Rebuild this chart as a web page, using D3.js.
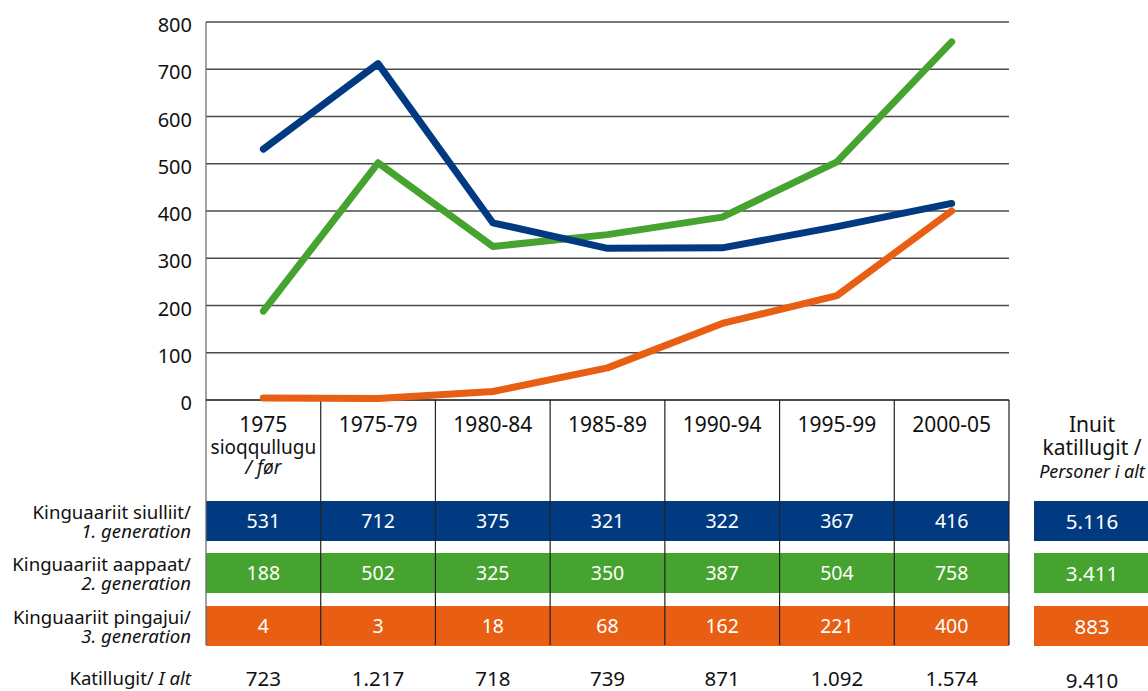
<!DOCTYPE html>
<html>
<head>
<meta charset="utf-8">
<script src="https://cdn.jsdelivr.net/npm/d3@7"></script>
<style>
  html, body { margin: 0; padding: 0; background: #fff; }
  svg { display: block; font-family: "Noto Sans", "Open Sans", sans-serif; }
</style>
</head>
<body>
<svg id="chart" width="1148" height="691"></svg>
<script>
// ---- data ----
const categories = ["1975", "1975-79", "1980-84", "1985-89", "1990-94", "1995-99", "2000-05"];
const firstCatExtra = ["sioqqullugu", "/ før"];
const gen1 = [531, 712, 375, 321, 322, 367, 416];
const gen2 = [188, 502, 325, 350, 387, 504, 758];
const gen3 = [4, 3, 18, 68, 162, 221, 400];
const totals = ["723", "1.217", "718", "739", "871", "1.092", "1.574"];
const rowLabels = [["Kinguaariit siulliit/", "1. generation"], ["Kinguaariit aappaat/", "2. generation"], ["Kinguaariit pingajui/", "3. generation"]];
const totalLabel = ["Katillugit/ ", "I alt"];
const sumHeader = ["Inuit", "katillugit /", "Personer i alt"];
const sumValues = ["5.116", "3.411", "883"];
const grandTotal = "9.410";
const yTicks = [0, 100, 200, 300, 400, 500, 600, 700, 800];
const colors = ["#023a82", "#46a32f", "#e85f13"];

(function () {
// ---- layout ----
const svg = d3.select("#chart");
const pLeft = 206, pRight = 1009, pTop = 22, zeroY = 400, tableBottom = 645;
const x = d3.scaleBand().domain(categories).range([pLeft, pRight]).padding(0);
const y = d3.scaleLinear().domain([0, 800]).range([zeroY, pTop]);
const fmt = v => d3.format(",")(v).replace(/,/g, ".");

// gridlines
svg.append("g").selectAll("line").data(yTicks.filter(d => d > 0)).join("line")
  .attr("x1", pLeft).attr("x2", pRight)
  .attr("y1", d => y(d)).attr("y2", d => y(d))
  .attr("stroke", "#4a4a4a").attr("stroke-width", 1.3);

// y tick labels
svg.append("g").selectAll("text").data(yTicks).join("text")
  .attr("x", 192).attr("y", d => y(d) + 10)
  .attr("text-anchor", "end").attr("font-size", 20).attr("fill", "#111")
  .text(d => d);

// bands
const bandTops = [501, 553, 606];
const bandH = 40;
const series = [gen1, gen2, gen3];
series.forEach((vals, i) => {
  svg.append("rect").attr("x", pLeft).attr("y", bandTops[i])
    .attr("width", pRight - pLeft).attr("height", bandH).attr("fill", colors[i]);
  svg.append("g").selectAll("text").data(vals).join("text")
    .attr("x", (d, j) => x(categories[j]) + x.bandwidth() / 2)
    .attr("y", bandTops[i] + bandH / 2 + 7)
    .attr("text-anchor", "middle").attr("font-size", 19.5).attr("fill", "#fff")
    .text(d => fmt(d));
  // right summary band
  svg.append("rect").attr("x", 1034).attr("y", bandTops[i])
    .attr("width", 116).attr("height", bandH).attr("fill", colors[i]);
  svg.append("text").attr("x", 1092).attr("y", bandTops[i] + bandH / 2 + 8)
    .attr("text-anchor", "middle").attr("font-size", 20.5).attr("fill", "#fff")
    .text(sumValues[i]);
  // row labels
  const t = svg.append("text").attr("text-anchor", "end").attr("font-size", 18.6).attr("fill", "#111");
  t.append("tspan").attr("x", 191).attr("y", bandTops[i] + bandH / 2 - 2).text(rowLabels[i][0]);
  t.append("tspan").attr("x", 191).attr("y", bandTops[i] + bandH / 2 + 17)
    .attr("font-style", "italic").text(rowLabels[i][1]);
});

// vertical dividers
const divs = categories.map(c => x(c)).concat([pRight]);
svg.append("g").selectAll("line").data(divs).join("line")
  .attr("x1", d => d).attr("x2", d => d)
  .attr("y1", (d, i) => i === 0 ? pTop : zeroY).attr("y2", tableBottom)
  .attr("stroke", (d, i) => i === 0 ? "#666" : "#222").attr("stroke-width", 1.2);

// zero line
svg.append("line").attr("x1", pLeft).attr("x2", pRight).attr("y1", zeroY).attr("y2", zeroY)
  .attr("stroke", "#111").attr("stroke-width", 1.5);

// category labels
svg.append("g").selectAll("text").data(categories).join("text")
  .attr("x", d => x(d) + x.bandwidth() / 2).attr("y", 432)
  .attr("text-anchor", "middle").attr("font-size", 21).attr("fill", "#111")
  .text(d => d);
const cx0 = x(categories[0]) + x.bandwidth() / 2;
svg.append("text").attr("x", cx0).attr("y", 454).attr("text-anchor", "middle")
  .attr("font-size", 19).attr("fill", "#111").text(firstCatExtra[0]);
svg.append("text").attr("x", cx0).attr("y", 474).attr("text-anchor", "middle")
  .attr("font-size", 19).attr("font-style", "italic").attr("fill", "#111").text(firstCatExtra[1]);

// summary header
svg.append("text").attr("x", 1092).attr("y", 432).attr("text-anchor", "middle")
  .attr("font-size", 21).attr("fill", "#111").text(sumHeader[0]);
svg.append("text").attr("x", 1092).attr("y", 455).attr("text-anchor", "middle")
  .attr("font-size", 21).attr("fill", "#111").text(sumHeader[1]);
svg.append("text").attr("x", 1092).attr("y", 478).attr("text-anchor", "middle")
  .attr("font-size", 18).attr("font-style", "italic").attr("fill", "#111").text(sumHeader[2]);

// totals row
svg.append("g").selectAll("text").data(totals).join("text")
  .attr("x", (d, j) => x(categories[j]) + x.bandwidth() / 2).attr("y", 686)
  .attr("text-anchor", "middle").attr("font-size", 20.5).attr("fill", "#111")
  .text(d => d);
const tl = svg.append("text").attr("x", 191).attr("y", 685).attr("text-anchor", "end")
  .attr("font-size", 18.6).attr("fill", "#111");
tl.append("tspan").text(totalLabel[0]);
tl.append("tspan").attr("font-style", "italic").text(totalLabel[1]);
svg.append("text").attr("x", 1092).attr("y", 688).attr("text-anchor", "middle")
  .attr("font-size", 20.5).attr("fill", "#111").text(grandTotal);

// lines
const line = d3.line()
  .x((d, j) => x(categories[j]) + x.bandwidth() / 2)
  .y(d => y(d));
[gen2, gen1, gen3].forEach((vals) => {
  const i = series.indexOf(vals);
  svg.append("path").datum(vals).attr("d", line)
    .attr("fill", "none").attr("stroke", colors[i]).attr("stroke-width", 7)
    .attr("stroke-linecap", "round").attr("stroke-linejoin", "round");
});
})();
</script>
</body>
</html>
